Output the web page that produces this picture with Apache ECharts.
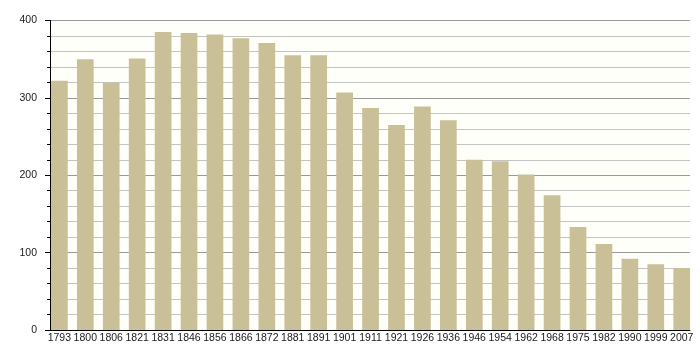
<!DOCTYPE html>
<html>
<head>
<meta charset="utf-8">
<script src="https://cdn.jsdelivr.net/npm/echarts@6/dist/echarts.min.js"></script>
<style>html,body{margin:0;padding:0;background:#fff;}#c{width:700px;height:360px;}</style>
</head>
<body>
<div id="c"></div>
<script>
const years = ['1793','1800','1806','1821','1831','1846','1856','1866','1872','1881','1891','1901','1911','1921','1926','1936','1946','1954','1962','1968','1975','1982','1990','1999','2007'];
const population = [322,350,320,351,385,384,382,377,371,355,355,307,287,265,289,271,220,218,201,174,133,111,92,85,80];
const yTicks = [0,100,200,300,400];

const chart = echarts.init(document.getElementById('c'), null, {renderer:'canvas'});
const font = {fontFamily:'Liberation Sans, Arial, sans-serif', fontSize:10.5, color:'#1a1a1a'};
chart.setOption({
  animation:false,
  backgroundColor:'#ffffff',
  grid:[
    {left:50, right:10, top:20.5, bottom:30, show:true, backgroundColor:'#fffffa', borderWidth:0},
    {left:46.4, right:5.3, top:20.5, bottom:30}
  ],
  xAxis:[
    {type:'category', gridIndex:0, data:years, axisLine:{show:true, lineStyle:{color:'#000', width:1}}, axisTick:{show:false}, axisLabel:{show:false}, splitLine:{show:false}},
    {type:'category', gridIndex:1, data:years, axisLine:{show:false}, axisTick:{show:false}, axisLabel:Object.assign({margin:3, interval:0}, font)}
  ],
  yAxis:[
    {type:'value', gridIndex:0, min:yTicks[0], max:yTicks[yTicks.length-1], interval:100,
     axisLine:{show:true, lineStyle:{color:'#000', width:1}},
     axisTick:{show:true, length:5, lineStyle:{color:'#000'}},
     minorTick:{show:true, splitNumber:5, length:3, lineStyle:{color:'#000'}},
     splitLine:{show:true, lineStyle:{color:'#999', width:1}},
     minorSplitLine:{show:true, lineStyle:{color:'#c4c4c4', width:1}},
     axisLabel:Object.assign({margin:13}, font)},
    {type:'value', gridIndex:1, min:0, max:400, show:false, splitLine:{show:false}}
  ],
  series:[{
    type:'bar', xAxisIndex:1, yAxisIndex:1, data:population, barWidth:16.7,
    itemStyle:{color:'#c9c098'}
  }]
});
</script>
</body>
</html>
